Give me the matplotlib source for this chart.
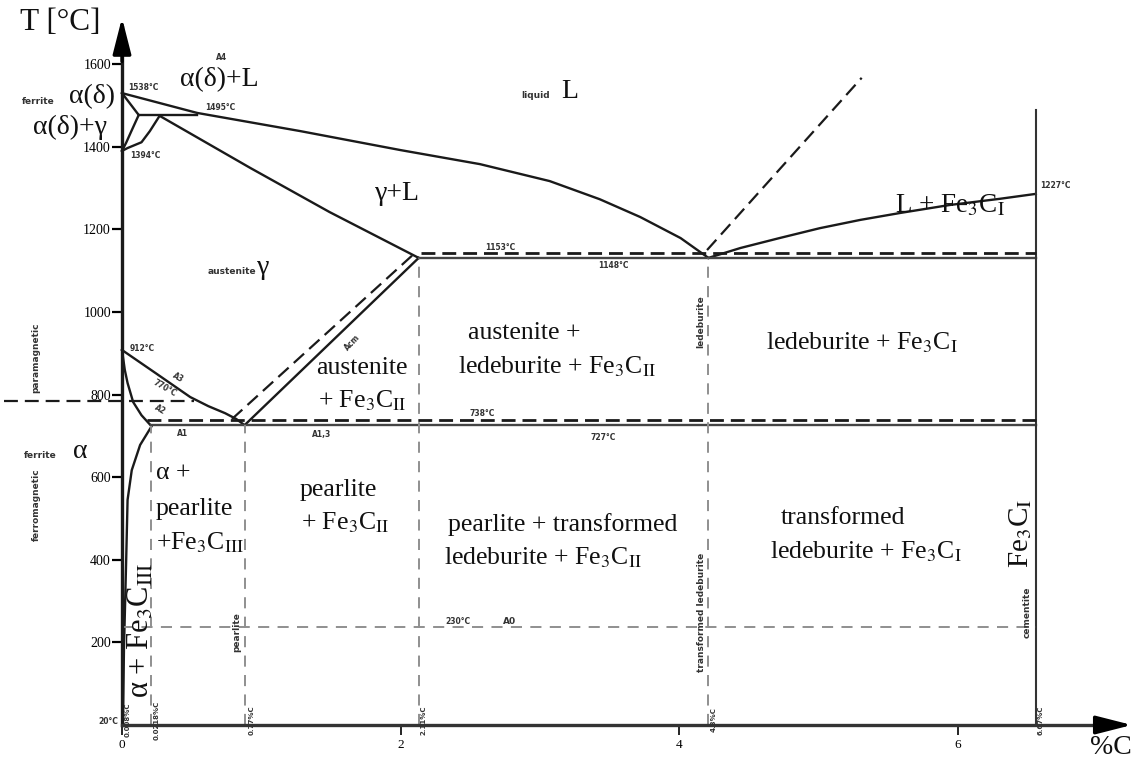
import matplotlib
matplotlib.use('Agg')
import matplotlib.pyplot as plt

plt.rcParams['font.family'] = ['Liberation Serif', 'DejaVu Serif']
plt.rcParams['mathtext.fontset'] = 'stix'
plt.rcParams['lines.scale_dashes'] = False

# --- phase boundaries (%C, °C) as drawn in the picture ---
# liquidus, hypo side
liq_c = [0, 0.54, 1.28, 2.00, 2.57, 3.07, 3.43, 3.72, 4.01, 4.21]
liq_t = [1530, 1482, 1438, 1392, 1358, 1317, 1273, 1230, 1179, 1131]
# liquidus, hyper side (cementite)
liq2_c = [4.21, 4.44, 4.72, 5.01, 5.30, 5.59, 5.94, 6.30, 6.56]
liq2_t = [1131, 1155, 1179, 1203, 1223, 1240, 1259, 1274, 1286]
# graphite liquidus (stable, dashed)
liqg_c = [4.20, 5.31]
liqg_t = [1150, 1567]
# solidus of austenite
sol_c = [0.27, 0.92, 1.49, 2.13]
sol_t = [1475, 1349, 1242, 1131]
# delta region
dsol_c = [0, 0.12]
dsol_t = [1530, 1477]
dgam_c = [0.12, 0.07, 0.03, 0]
dgam_t = [1477, 1440, 1410, 1390]
gdel_c = [0.27, 0.20, 0.14, 0.04, 0]
gdel_t = [1475, 1438, 1411, 1397, 1390]
perit_c = [0.12, 0.54]
perit_t = [1477, 1477]
# A3, ferrite boundary, Acm
a3_c = [0, 0.25, 0.49, 0.62, 0.74, 0.82, 0.88]
a3_t = [908, 850, 794, 772, 755, 741, 726]
fer_c = [0, 0.02, 0.04, 0.08, 0.14, 0.21]
fer_t = [908, 860, 828, 782, 750, 724]
acm_c = [0.88, 2.13]
acm_t = [726, 1131]
acmg_c = [0.79, 2.11]
acmg_t = [741, 1145]
# solvus of ferrite (Fe3C III)
solv_c = [0.21, 0.13, 0.07, 0.04, 0.03, 0.014, 0.007]
solv_t = [722, 678, 617, 545, 400, 182, 12]
# horizontals
t_eut, t_eut_g = 1131, 1143
t_a1, t_a1_g = 726, 738
t_curie = 785
t_a0 = 237
c_cem = 6.56
t_cem_top = 1489
# gray guide verticals: (%C, top temperature)
guide_c = [0.21, 0.88, 2.13, 4.21]
guide_t = [724, 726, 1131, 1131]

y_ticks = [200, 400, 600, 800, 1000, 1200, 1400, 1600]
x_ticks = [0, 2, 4, 6]

W, H = 1136, 765
X0, SX, Y0, SY = 122, 139.3, 725, 0.413

fig = plt.figure(figsize=(W / 100, H / 100), dpi=100)
ax = fig.add_axes([0, 0, 1, 1])
ax.set_xlim(-X0 / SX, (W - X0) / SX)
ax.set_ylim((Y0 - H) / SY, Y0 / SY)

blk = '#1a1a1a'
gry = '#8f8f8f'
lw = 1.7

for cc, tt in [(liq_c, liq_t), (liq2_c, liq2_t), (sol_c, sol_t),
               (dsol_c, dsol_t), (dgam_c, dgam_t), (gdel_c, gdel_t),
               (perit_c, perit_t), (a3_c, a3_t), (fer_c, fer_t),
               (acm_c, acm_t), (solv_c, solv_t)]:
    ax.plot(cc, tt, color=blk, lw=lw, solid_joinstyle='round')
ax.plot([2.13, c_cem], [t_eut, t_eut], color='#444', lw=lw)
ax.plot([0.21, c_cem], [t_a1, t_a1], color='#444', lw=lw)
ax.plot([c_cem, c_cem], [0, t_cem_top], color='#333', lw=1.5)

dash_b = (0, (10, 5))
ax.plot(liqg_c, liqg_t, color=blk, lw=1.6, linestyle=dash_b)
ax.plot(acmg_c, acmg_t, color=blk, lw=1.6, linestyle=dash_b)
ax.plot([2.15, c_cem], [t_eut_g, t_eut_g], color=blk, lw=2, linestyle=dash_b)
ax.plot([0.18, c_cem], [t_a1_g, t_a1_g], color=blk, lw=2, linestyle=dash_b)
ax.plot([-0.85, 0.52], [t_curie, t_curie], color=blk, lw=1.6, linestyle=dash_b)

dash_g = (0, (8, 6))
ax.plot([0, c_cem], [t_a0, t_a0], color=gry, lw=1.4, linestyle=dash_g)
for c, t in zip(guide_c, guide_t):
    ax.plot([c, c], [0, t], color=gry, lw=1.4, linestyle=dash_g)

# axes
for s in ['top', 'right']:
    ax.spines[s].set_visible(False)
ax.spines['left'].set_position(('data', 0))
ax.spines['bottom'].set_position(('data', 0))
ax.spines['left'].set_bounds(0, 1690)
ax.spines['bottom'].set_bounds(0, 7.15)
ax.spines['left'].set_linewidth(2.4)
ax.spines['bottom'].set_linewidth(2.4)
ax.spines['left'].set_color(blk)
ax.spines['bottom'].set_color('#333')
ax.set_yticks(y_ticks)
ax.set_yticklabels([str(v) for v in y_ticks])
ax.set_xticks(x_ticks)
ax.set_xticklabels([str(v) for v in x_ticks])
ax.tick_params(axis='y', direction='out', length=7, width=1.6, pad=1, labelsize=10)
ax.tick_params(axis='x', direction='out', length=7, width=1.2, pad=3, labelsize=9.5)
ax.annotate('', xy=(0, 1719), xytext=(0, 1600),
            arrowprops=dict(arrowstyle='-|>,head_length=1.1,head_width=0.28',
                            mutation_scale=20, color='black', lw=2.4))
ax.annotate('', xy=(7.27, 0), xytext=(7.0, 0),
            arrowprops=dict(arrowstyle='-|>,head_length=1.1,head_width=0.28',
                            mutation_scale=20, color='black', lw=2.4))


def lab(x, y, s, size=18.5, rot=0, ha='center', color='#111', **kw):
    fig.text(x / W, 1 - y / H, s, fontsize=size, rotation=rot, ha=ha,
             va='center', color=color, **kw)


def tiny(x, y, s, rot=0, ha='center', size=5.5):
    lab(x, y, s, size=size, rot=rot, ha=ha, color='#333',
        family='DejaVu Sans', weight='bold')


fe2 = r'Fe$_3$C$_{\mathrm{II}}$'
fe1 = r'Fe$_3$C$_{\mathrm{I}}$'
fe3 = r'Fe$_3$C$_{\mathrm{III}}$'

lab(60, 22, 'T [°C]', size=22.5)
lab(1111, 748, '%C', size=20)

tiny(38, 101, 'ferrite', size=6.5)
lab(92, 97, 'α(δ)', size=20)
lab(70, 127, 'α(δ)+γ', size=20)
lab(219, 80, 'α(δ)+L', size=20)
tiny(536, 96, 'liquid', size=6.5)
lab(570, 92, 'L', size=20)
lab(397, 193, 'γ+L', size=20)
tiny(232, 271, 'austenite', size=6.5)
lab(263, 268, 'γ', size=20)
lab(362, 368, 'austenite')
lab(362, 401, '+ ' + fe2)
lab(524, 333, 'austenite +')
lab(557, 367, 'ledeburite + ' + fe2)
lab(862, 343, 'ledeburite + ' + fe1)
lab(950, 206, 'L + ' + fe1, size=19.5)
tiny(40, 455, 'ferrite', size=6.5)
lab(80, 452, 'α', size=20)
lab(156, 473, 'α +', ha='left')
lab(156, 509, 'pearlite', ha='left')
lab(156, 543, '+' + fe3, ha='left')
lab(141, 630, 'α + ' + fe3, size=22, rot=90)
lab(338, 490, 'pearlite')
lab(345, 523, '+ ' + fe2)
lab(563, 525, 'pearlite + transformed')
lab(543, 558, 'ledeburite + ' + fe2)
lab(843, 518, 'transformed')
lab(866, 552, 'ledeburite + ' + fe1)
lab(1021, 533, fe1, size=21, rot=90)
tiny(1027, 612, 'cementite', rot=90, size=6.5)

tiny(701, 322, 'ledeburite', rot=90, size=6.5)
tiny(237, 632, 'pearlite', rot=90, size=6.5)
tiny(701, 612, 'transformed ledeburite', rot=90, size=6.5)
tiny(36, 505, 'ferromagnetic', rot=90, size=6.5)
tiny(36, 358, 'paramagnetic', rot=90, size=6.5)

tiny(128, 88, '1538°C', ha='left')
tiny(205, 108, '1495°C', ha='left')
tiny(130, 155, '1394°C', ha='left')
tiny(130, 349, '912°C', ha='left')
tiny(165, 388, '770°C', rot=-30)
tiny(160, 410, 'A2', rot=-30)
tiny(178, 378, 'A3', rot=-30)
tiny(183, 434, 'A1')
tiny(322, 434, 'A1,3')
tiny(352, 343, 'Acm', rot=47)
tiny(222, 58, 'A4')
tiny(500, 247, '1153°C')
tiny(613, 266, '1148°C')
tiny(482, 413, '738°C')
tiny(603, 437, '727°C')
tiny(1040, 186, '1227°C', ha='left')
tiny(458, 622, '230°C')
tiny(510, 622, 'A0', size=6.5)
tiny(108, 722, '20°C')
for x, s in [(128, '0.008%C'), (157, '0.0218%C'), (252, '0.77%C'),
             (423, '2.11%C'), (714, '4.3%C'), (1041, '6.67%C')]:
    lab(x, 720, s, size=5, rot=90, color='#333', family='DejaVu Sans',
        weight='bold')

fig.savefig('out.png', dpi=100)
